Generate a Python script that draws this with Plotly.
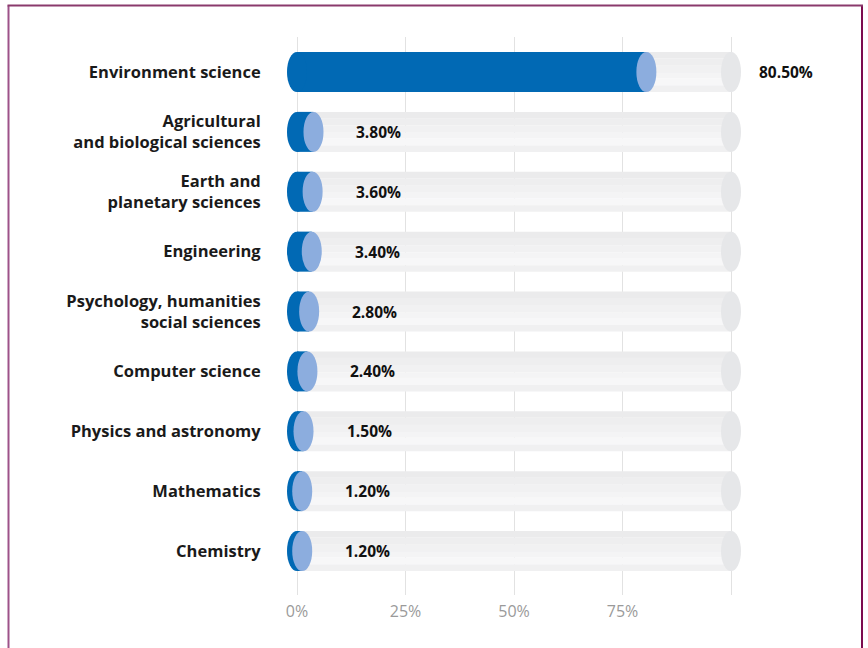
import plotly.graph_objects as go

categories = [
    "Environment science",
    "Agricultural<br>and biological sciences",
    "Earth and<br>planetary sciences",
    "Engineering",
    "Psychology, humanities<br>social sciences",
    "Computer science",
    "Physics and astronomy",
    "Mathematics",
    "Chemistry",
]
values = [80.5, 3.8, 3.6, 3.4, 2.8, 2.4, 1.5, 1.2, 1.2]
track_max = 100
x_tickvals = [0, 25, 50, 75, 100]
x_ticktext = ["0%", "25%", "50%", "75%", ""]

W, H = 868, 648
PX_PER = 4.34          # pixels per percent
X0_PX = 297            # pixel of 0%
L, R = 280, 72
T, B = 37, 53
ROW_PX = 59.875

xr = [(L - X0_PX) / PX_PER, (W - R - X0_PX) / PX_PER]
yr = [8 + (H - B - 551) / ROW_PX, -(72 - T) / ROW_PX]

bar_w = 40 / ROW_PX
cap_rx = 10 / PX_PER
cap_ry = bar_w / 2

BLUE = "#0169b4"
LIGHT_BLUE = "#8cadde"
TRACK_CAP = "#e6e7e9"
# vertical gradient of the grey track (top -> bottom)
track_bands = [(0.00, 0.16, "#ebebec"), (0.16, 0.34, "#eeeeef"), (0.34, 0.52, "#f1f1f2"),
               (0.52, 0.66, "#f4f4f5"), (0.66, 0.84, "#f7f7f8"), (0.84, 1.00, "#f0f0f1")]

idx = list(range(len(categories)))
fig = go.Figure()
for f0, f1, col in track_bands:
    fig.add_trace(go.Bar(x=[track_max] * len(idx), y=idx, orientation="h",
                         width=(f1 - f0) * bar_w + 0.002, offset=-bar_w / 2 + f0 * bar_w,
                         marker=dict(color=col, line=dict(width=0)), hoverinfo="skip"))
fig.add_trace(go.Bar(x=values, y=idx, orientation="h", width=bar_w,
                     marker=dict(color=BLUE, line=dict(width=0)), hoverinfo="skip"))

shapes = []
for i, v in zip(idx, values):
    shapes.append(dict(type="circle", xref="x", yref="y", x0=track_max - cap_rx, x1=track_max + cap_rx,
                       y0=i - cap_ry, y1=i + cap_ry, fillcolor=TRACK_CAP, line=dict(width=0)))
    shapes.append(dict(type="circle", xref="x", yref="y", x0=-cap_rx, x1=cap_rx,
                       y0=i - cap_ry, y1=i + cap_ry, fillcolor=BLUE, line=dict(width=0)))
    shapes.append(dict(type="circle", xref="x", yref="y", x0=v - cap_rx, x1=v + cap_rx,
                       y0=i - cap_ry, y1=i + cap_ry, fillcolor=LIGHT_BLUE, line=dict(width=0)))

# frame border
pw, ph = W - L - R, H - T - B
def px2x(p): return (p - L) / pw
def px2y(p): return (H - B - p) / ph
shapes.append(dict(type="line", xref="paper", yref="paper", x0=px2x(8.5), x1=px2x(8.5),
                   y0=px2y(5.5), y1=px2y(660), line=dict(color="#9d5289", width=2)))
shapes.append(dict(type="line", xref="paper", yref="paper", x0=px2x(862), x1=px2x(862),
                   y0=px2y(5.5), y1=px2y(660), line=dict(color="#7c0c4f", width=2)))
shapes.append(dict(type="line", xref="paper", yref="paper", x0=px2x(7.5), x1=px2x(863),
                   y0=px2y(5.5), y1=px2y(5.5), line=dict(color="#8a3a6c", width=2)))

annotations = []
for i, v in zip(idx, values):
    on_track = v < 50
    annotations.append(dict(x=v if on_track else track_max, y=i, xref="x", yref="y",
                            text=f"{v:.2f}%", showarrow=False, xanchor="left",
                            xshift=41 if on_track else 26,
                            font=dict(family="Open Sans", size=15.5, color="#111111", weight="bold")))

fig.update_layout(
    width=W, height=H,
    margin=dict(l=L, r=R, t=T, b=B),
    paper_bgcolor="white", plot_bgcolor="white",
    barmode="overlay", showlegend=False,
    shapes=shapes, annotations=annotations,
    xaxis=dict(range=xr, tickvals=x_tickvals, ticktext=x_ticktext, showgrid=True,
               gridcolor="#e2e2e2", gridwidth=1, zeroline=False, showline=False,
               ticks="outside", ticklen=2, tickcolor="rgba(0,0,0,0)",
               tickfont=dict(family="Open Sans", size=16, color="#9a9a9a"), fixedrange=True),
    yaxis=dict(range=yr, tickvals=idx, ticktext=categories, showgrid=False, zeroline=False,
               showline=False, ticks="outside", ticklen=15, tickcolor="rgba(0,0,0,0)",
               tickfont=dict(family="Open Sans", size=16.5, color="#1a1a1a", weight="bold"),
               fixedrange=True),
)

fig.write_html("out.html", config={"displayModeBar": False},
               post_script="document.body.style.margin='0';")
